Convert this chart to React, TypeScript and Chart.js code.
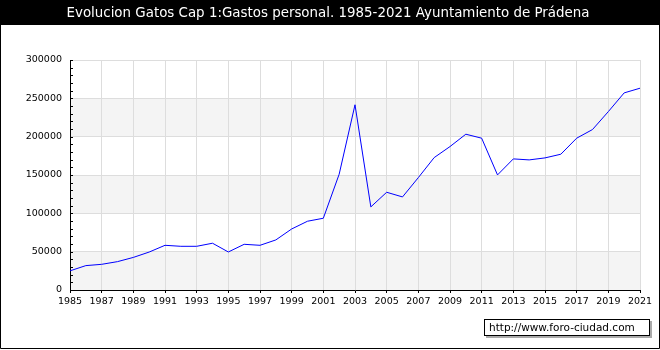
import React, { useEffect, useRef } from "react";
import { Chart, registerables } from "chart.js";

Chart.register(...registerables);

const TITLE = "Evolucion Gatos Cap 1:Gastos personal. 1985-2021 Ayuntamiento de Prádena";
const SOURCE = "http://www.foro-ciudad.com";

const years = [
  1985, 1986, 1987, 1988, 1989, 1990, 1991, 1992, 1993, 1994, 1995, 1996, 1997,
  1998, 1999, 2000, 2001, 2002, 2003, 2004, 2005, 2006, 2007, 2008, 2009, 2010,
  2011, 2012, 2013, 2014, 2015, 2016, 2017, 2018, 2019, 2020, 2021,
];

const gastos = [
  25000, 31800, 33500, 37000, 42500, 49500, 58300, 57000, 57000, 61000, 49600,
  59600, 58300, 65300, 79600, 89700, 93600, 151000, 241600, 108400, 127500,
  121400, 146600, 172700, 187100, 203200, 198000, 150100, 171000, 169700,
  172300, 177100, 198000, 209300, 232700, 257100, 263200,
];

const yMin = 0;
const yMax = 300000;
const yMajorStep = 50000;
const yMinorStep = 10000;
const xStep = 2;

const FONT = "DejaVu Sans";

const framePlugin = {
  id: "frame",
  beforeDraw(chart: any) {
    const { ctx, chartArea: a, scales } = chart;
    const y = scales.y;
    ctx.save();
    ctx.fillStyle = "#ffffff";
    ctx.fillRect(0, 0, chart.width, chart.height);
    ctx.fillStyle = "#000000";
    ctx.fillRect(0, 0, chart.width, 25);
    ctx.strokeStyle = "#000000";
    ctx.lineWidth = 1;
    ctx.beginPath();
    ctx.moveTo(0.5, 25);
    ctx.lineTo(0.5, 348.5);
    ctx.lineTo(chart.width - 0.5, 348.5);
    ctx.lineTo(chart.width - 0.5, 25);
    ctx.stroke();
    // alternating bands
    ctx.fillStyle = "#f4f4f4";
    for (let v = yMin; v < yMax; v += 2 * yMajorStep) {
      const top = y.getPixelForValue(v + yMajorStep);
      const bot = y.getPixelForValue(v);
      ctx.fillRect(a.left, top, a.right - a.left, bot - top);
    }
    ctx.restore();
  },
  afterDraw(chart: any) {
    const { ctx, chartArea: a, scales } = chart;
    const y = scales.y;
    ctx.save();
    // inward minor ticks on y axis
    ctx.strokeStyle = "#000000";
    ctx.lineWidth = 1;
    ctx.beginPath();
    for (let v = yMin; v <= yMax; v += yMinorStep) {
      const py = Math.round(y.getPixelForValue(v)) + 0.5;
      ctx.moveTo(a.left, py);
      ctx.lineTo(a.left + 3, py);
    }
    ctx.stroke();
    // source box
    const bx = 484, by = 319, bw = 165, bh = 16;
    ctx.fillStyle = "#aaaaaa";
    ctx.fillRect(bx + 2, by + 2, bw + 1, bh + 1);
    ctx.fillStyle = "#ffffff";
    ctx.fillRect(bx, by, bw, bh);
    ctx.strokeStyle = "#000000";
    ctx.strokeRect(bx + 0.5, by + 0.5, bw, bh);
    ctx.fillStyle = "#000000";
    ctx.font = `10.5px "${FONT}"`;
    ctx.textBaseline = "middle";
    ctx.textAlign = "left";
    ctx.fillText(SOURCE, bx + 5, by + bh / 2 + 1);
    ctx.restore();
  },
};

export default function App() {
  const ref = useRef<HTMLCanvasElement | null>(null);

  useEffect(() => {
    if (!ref.current) return;
    const chart = new Chart(ref.current, {
      type: "line",
      data: {
        datasets: [
          {
            label: "Gastos",
            data: years.map((yr, i) => ({ x: yr, y: gastos[i] })),
            borderColor: "#0000ff",
            borderWidth: 1,
            pointRadius: 0,
            tension: 0,
            fill: false,
          },
        ],
      },
      options: {
        animation: false,
        responsive: false,
        devicePixelRatio: 1,
        layout: { padding: { left: 16, right: 20, top: 0, bottom: 40 } },
        plugins: {
          legend: { display: false },
          tooltip: { enabled: false },
          title: {
            display: true,
            text: TITLE,
            color: "#ffffff",
            font: { family: FONT, size: 13.4, weight: "normal" as any, lineHeight: 1.2 },
            padding: { top: 5, bottom: 38.92 },
          },
        },
        scales: {
          x: {
            type: "linear",
            min: years[0],
            max: years[years.length - 1],
            border: { color: "#000000", width: 1 },
            grid: { color: "#dddddd", tickColor: "#000000", tickLength: 3, lineWidth: 1 },
            ticks: {
              stepSize: xStep,
              autoSkip: false,
              maxRotation: 0,
              padding: 3,
              color: "#000000",
              font: { family: FONT, size: 9.5 },
              callback: (v: any) => String(v),
            },
            afterFit: (s: any) => {
              s.height = 20;
            },
          },
          y: {
            min: yMin,
            max: yMax,
            border: { color: "#000000", width: 1 },
            grid: { color: "#dddddd", drawTicks: false, lineWidth: 1 },
            ticks: {
              stepSize: yMajorStep,
              padding: 8,
              color: "#000000",
              font: { family: FONT, size: 9.5 },
              callback: (v: any) => String(v),
            },
            afterFit: (s: any) => {
              s.width = 54;
            },
          },
        },
      },
      plugins: [framePlugin],
    });
    return () => chart.destroy();
  }, []);

  return (
    <div style={{ position: "absolute", left: 0, top: 0, width: 660, height: 350 }}>
      <canvas ref={ref} width={660} height={350} />
    </div>
  );
}
